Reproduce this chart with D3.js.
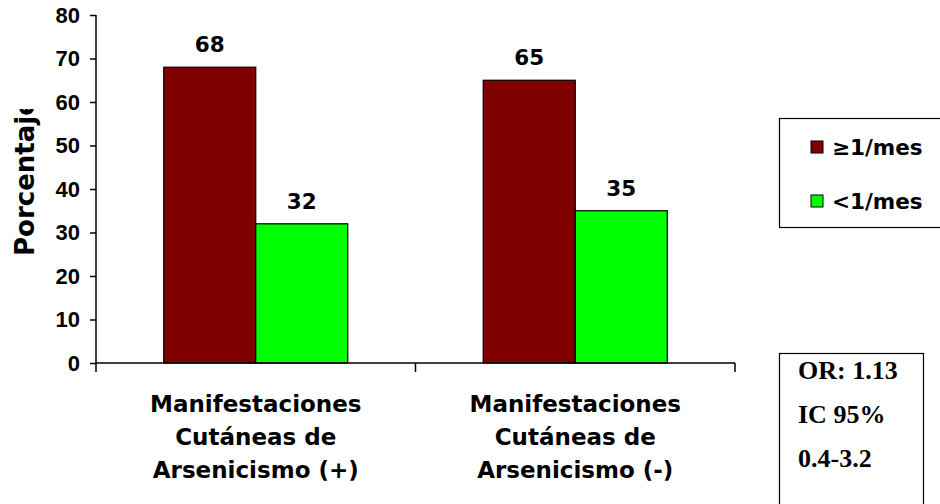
<!DOCTYPE html>
<html>
<head>
<meta charset="utf-8">
<script src="https://cdn.jsdelivr.net/npm/d3@7"></script>
<style>
  html, body { margin: 0; padding: 0; background: #fff; }
  svg { display: block; }
</style>
</head>
<body>
<svg id="chart" width="940" height="504"></svg>
<script>
// Data
const categories = [
  ["Manifestaciones", "Cutáneas de", "Arsenicismo (+)"],
  ["Manifestaciones", "Cutáneas de", "Arsenicismo (-)"]
];
const seriesNames = ["≥1/mes", "<1/mes"];
const seriesColors = ["#800000", "#00ff00"];
const frecuenteValues = [68, 65];   // ≥1/mes
const ocasionalValues = [32, 35];   // <1/mes
const yTicks = [0, 10, 20, 30, 40, 50, 60, 70, 80];
const statLines = ["OR: 1.13", "IC 95%", "0.4-3.2"];
const yTitle = "Porcentaje";

const svg = d3.select("#chart");
const sans = "'DejaVu Sans', Verdana, sans-serif";

const plot = { left: 96, right: 735, top: 15, bottom: 363 };

const y = d3.scaleLinear().domain([0, 80]).range([plot.bottom, plot.top]);
const catKeys = categories.map((c, i) => i);
const x0 = d3.scaleBand().domain(catKeys).range([plot.left, plot.right]).paddingInner(0).paddingOuter(0);
const x1 = d3.scaleBand().domain(d3.range(seriesNames.length)).range([0, x0.bandwidth()]).paddingInner(0).paddingOuter(0.736);

const rows = catKeys.map(i => [frecuenteValues[i], ocasionalValues[i]]);

// Bars
const groups = svg.append("g").selectAll("g")
  .data(rows).join("g")
  .attr("transform", (d, i) => `translate(${x0(i)},0)`);

groups.selectAll("rect")
  .data(d => d.map((v, s) => ({ v, s })))
  .join("rect")
  .attr("x", d => x1(d.s))
  .attr("y", d => y(d.v))
  .attr("width", x1.bandwidth())
  .attr("height", d => y(0) - y(d.v))
  .attr("fill", d => seriesColors[d.s])
  .attr("stroke", "#000")
  .attr("stroke-width", 1.2);

// Value labels
groups.selectAll("text.val")
  .data(d => d.map((v, s) => ({ v, s })))
  .join("text")
  .attr("class", "val")
  .attr("x", d => x1(d.s) + x1.bandwidth() / 2)
  .attr("y", d => y(d.v) - 15)
  .attr("text-anchor", "middle")
  .attr("font-family", sans)
  .attr("font-weight", "bold")
  .attr("font-size", 21.5)
  .text(d => d.v);

// Y axis
const yAxis = d3.axisLeft(y).tickValues(yTicks).tickSize(6).tickPadding(10).tickSizeOuter(0);
const yg = svg.append("g").attr("transform", `translate(${plot.left},0)`).call(yAxis);
yg.select(".domain").attr("stroke", "#000").attr("stroke-width", 1.5)
  .attr("d", `M0,${plot.top}V${plot.bottom + 9}`);
yg.selectAll(".tick line").attr("stroke", "#000").attr("stroke-width", 1.5);
yg.selectAll(".tick text")
  .attr("font-family", "'Liberation Sans', Arial, sans-serif")
  .attr("font-weight", "bold")
  .attr("font-size", 22)
  .attr("fill", "#000");

// X axis line with ticks at category boundaries
const xg = svg.append("g");
xg.append("line")
  .attr("x1", plot.left).attr("x2", plot.right)
  .attr("y1", y(0)).attr("y2", y(0))
  .attr("stroke", "#000").attr("stroke-width", 1.5);
const bounds = catKeys.map(i => x0(i)).concat([x0(catKeys[catKeys.length - 1]) + x0.bandwidth()]);
xg.selectAll("line.tk").data(bounds.slice(1)).join("line")
  .attr("class", "tk")
  .attr("x1", d => d).attr("x2", d => d)
  .attr("y1", y(0)).attr("y2", y(0) + 9)
  .attr("stroke", "#000").attr("stroke-width", 1.5);

// Category labels
const catText = svg.append("g").selectAll("text")
  .data(categories).join("text")
  .attr("text-anchor", "middle")
  .attr("font-family", sans)
  .attr("font-weight", "bold")
  .attr("font-size", 23)
  .attr("fill", "#000");
catText.selectAll("tspan")
  .data((d, i) => d.map(line => ({ line, i })))
  .join("tspan")
  .attr("x", d => x0(d.i) + x0.bandwidth() / 2)
  .attr("y", (d, k) => 412 + k * 33)
  .text(d => d.line);

// Y axis title (clipped at the top)
svg.append("clipPath").attr("id", "ytclip")
  .append("rect").attr("x", 0).attr("y", 109).attr("width", 60).attr("height", 200);
svg.append("g")
  .attr("clip-path", "url(#ytclip)")
  .append("text")
  .attr("transform", "translate(34,256) rotate(-90)")
  .attr("font-family", sans)
  .attr("font-weight", "bold")
  .attr("font-size", 26)
  .attr("fill", "#000")
  .text(yTitle);

// Legend
const legend = svg.append("g");
legend.append("rect")
  .attr("x", 779.5).attr("y", 118.5).attr("width", 200).attr("height", 109)
  .attr("fill", "#fff").attr("stroke", "#000").attr("stroke-width", 1.2);
const li = legend.selectAll("g.item").data(seriesNames).join("g")
  .attr("class", "item")
  .attr("transform", (d, i) => `translate(811,${141 + i * 54})`);
li.append("rect")
  .attr("width", 12).attr("height", 12)
  .attr("fill", (d, i) => seriesColors[i])
  .attr("stroke", "#000").attr("stroke-width", 1);
li.append("text")
  .attr("x", 21).attr("y", 14)
  .attr("font-family", sans)
  .attr("font-weight", "bold")
  .attr("font-size", 21.5)
  .attr("fill", "#000")
  .text(d => d);

// Statistics box
const stat = svg.append("g");
stat.append("rect")
  .attr("x", 779.5).attr("y", 353.5).attr("width", 144).attr("height", 200)
  .attr("fill", "#fff").attr("stroke", "#000").attr("stroke-width", 1.2);
stat.selectAll("text").data(statLines).join("text")
  .attr("x", 798)
  .attr("y", (d, i) => 379 + i * 44)
  .attr("font-family", "'Liberation Serif', 'Times New Roman', serif")
  .attr("font-weight", "bold")
  .attr("font-size", 26)
  .attr("fill", "#000")
  .text(d => d);
</script>
</body>
</html>
